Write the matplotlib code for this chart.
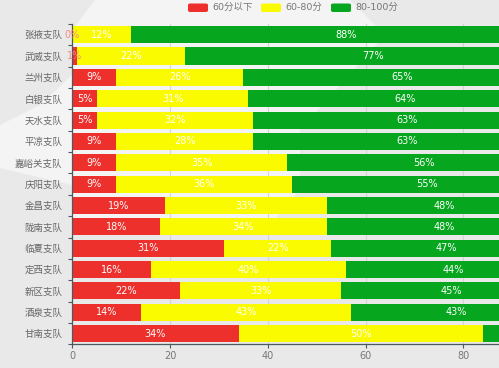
import matplotlib
matplotlib.use("Agg")
import matplotlib.pyplot as plt
from matplotlib.patches import FancyBboxPatch, Polygon

plt.rcParams['font.family'] = ['DejaVu Sans', 'Noto Sans CJK SC']

categories = ['张掖支队','武威支队','兰州支队','白银支队','天水支队','平凉支队','嘉峪关支队','庆阳支队',
              '金昌支队','陇南支队','临夏支队','定西支队','新区支队','酒泉支队','甘南支队']
low = [0,1,9,5,5,9,9,9,19,18,31,16,22,14,34]
mid = [12,22,26,31,32,28,35,36,33,34,22,40,33,43,50]
high = [88,77,65,64,63,63,56,55,48,48,47,44,45,43,16]
series_names = ['60分以下','60-80分','80-100分']
colors = ['#ee302c','#fbfb00','#06a61e']
xticks = [0,20,40,60,80]

W,H = 499,368
XMAX = 87.26
fig = plt.figure(figsize=(W/100,H/100),dpi=100,facecolor='#e9e9e9')

# faint map backdrop behind the chart
backdrop = [(95,0),(350,0),(385,35),(300,130),(300,190),(270,225),(72,225),
            (72,185),(0,168),(0,125),(40,105),(72,75),(72,30)]
fig.add_artist(Polygon([(x/W,1-y/H) for x,y in backdrop],closed=True,
                       transform=fig.transFigure,fc='#f4f4f4',ec='none',zorder=-5))

ax = fig.add_axes([72.3/W,1-344.3/H,(W-72.3)/W,(344.3-24)/H])
ax.set_facecolor('none')
ax.set_xlim(0,XMAX)
ax.set_ylim(14.5,-0.5)
ax.grid(axis='x',color='#d4d4d4',lw=0.8)
ax.set_axisbelow(True)
left=[0]*len(low)
for vals,c in zip([low,mid,high],colors):
    ax.barh(range(len(vals)),vals,left=left,height=0.8,color=c)
    for i,(v,l) in enumerate(zip(vals,left)):
        cx = l+v/2
        if cx >= XMAX:
            continue
        small = v < 3
        ax.text(cx,i,f'{v}%',ha='center',va='center',fontsize=7,
                color='#f58a85' if small else 'white',clip_on=False)
    left=[a+b for a,b in zip(left,vals)]
for s in ['top','right']:
    ax.spines[s].set_visible(False)
for s in ['left','bottom']:
    ax.spines[s].set_color('#4a5a60')
    ax.spines[s].set_linewidth(0.9)
ax.set_yticks([i-0.5 for i in range(16)],minor=False)
ax.set_yticklabels(['']*16)
ax.set_yticks(range(15),minor=True)
ax.set_yticklabels(categories,minor=True,fontsize=6.8,color='#666666',family='Noto Sans CJK SC')
ax.tick_params(axis='y',which='minor',length=0,pad=7)
ax.tick_params(axis='y',which='major',length=3,width=0.8,color='#4a5a60')
ax.set_xticks(xticks)
ax.set_xticklabels([str(x) for x in xticks],fontsize=7,color='#777777')
ax.tick_params(axis='x',length=3,width=0.8,color='#4a5a60',pad=2)

xs=[188,261,331]
for x,c,n in zip(xs,colors,series_names):
    p=FancyBboxPatch((x/W,1-12/H),20/W,8.5/H,boxstyle='round,pad=0,rounding_size=0.005',
                     transform=fig.transFigure,fc=c,ec='none',mutation_aspect=H/W)
    fig.add_artist(p)
    fig.text((x+24)/W,1-7/H,n,fontsize=6.8,color='#777777',va='center',ha='left')
fig.savefig('out.png',dpi=100,facecolor=fig.get_facecolor())
